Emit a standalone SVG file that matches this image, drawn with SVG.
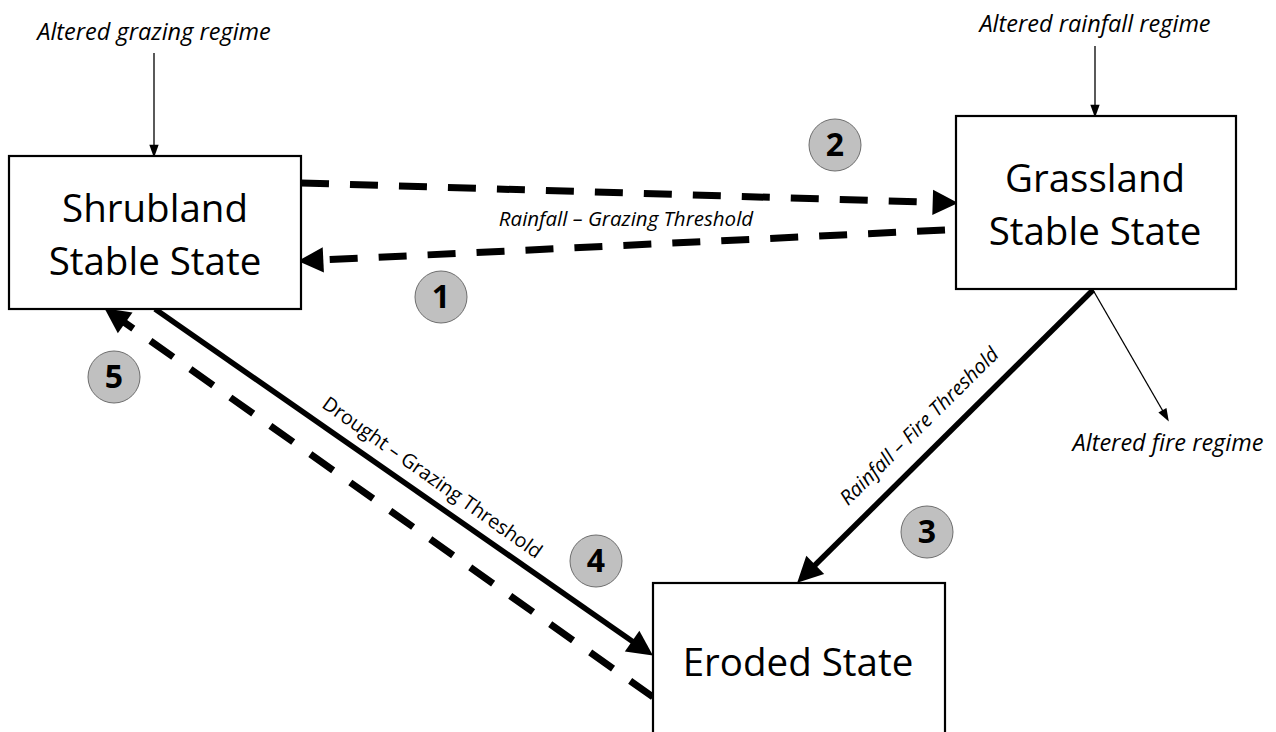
<svg xmlns="http://www.w3.org/2000/svg" width="1276" height="732" viewBox="0 0 1276 732">
<defs>
<style>
.box{fill:#fff;stroke:#000;stroke-width:2.2}
.title{font-family:"Open Sans","Noto Sans",sans-serif;font-size:38.5px;fill:#000;text-anchor:middle}
.ital{font-family:"Open Sans","Noto Sans",sans-serif;font-style:italic;font-size:23.5px;fill:#000;text-anchor:middle}
.lab{font-family:"Open Sans","Noto Sans",sans-serif;font-size:19.7px;fill:#000;text-anchor:middle}
.badge circle{fill:#c0c0c0;stroke:#6e6e6e;stroke-width:1}
.badge text{font-family:"Open Sans","Noto Sans",sans-serif;font-weight:700;font-size:32px;fill:#000;text-anchor:middle}
.thin{stroke:#000;stroke-width:1.3;fill:none}
.dash{stroke:#000;stroke-width:7;fill:none;stroke-dasharray:28 21}
.solid{stroke:#000;stroke-width:5.5;fill:none}
</style>
<marker id="big" markerUnits="userSpaceOnUse" markerWidth="30" markerHeight="30" viewBox="-3 -12 26 24" refX="0" refY="0" orient="auto" overflow="visible">
<path d="M-2,-11 L20,0 L-2,11 z" fill="#000"/>
</marker>
<marker id="small" markerUnits="userSpaceOnUse" markerWidth="14" markerHeight="14" viewBox="-1 -5 12 10" refX="0" refY="0" orient="auto" overflow="visible">
<path d="M-1,-4 L10,0 L-1,4 z" fill="#000"/>
</marker>
</defs>
<rect width="1276" height="732" fill="#fff"/>

<g id="connectors">
<line class="thin" x1="154" y1="53" x2="154" y2="146" marker-end="url(#small)"/>
<line class="thin" x1="1095" y1="46" x2="1095" y2="106" marker-end="url(#small)"/>
<line class="thin" x1="1093" y1="290" x2="1163" y2="411.3" marker-end="url(#small)"/>
<line class="dash" x1="301" y1="183" x2="935" y2="202.4" marker-end="url(#big)"/>
<line class="dash" x1="945" y1="230" x2="321" y2="260" marker-end="url(#big)"/>
<line class="solid" x1="155" y1="309" x2="634" y2="642.4" marker-end="url(#big)"/>
<line class="dash" x1="653" y1="697" x2="123.3" y2="321.6" marker-end="url(#big)"/>
<line class="solid" x1="1093" y1="290" x2="813.6" y2="566.5" marker-end="url(#big)"/>
<text class="ital" x="626" y="226" style="font-size:20.5px">Rainfall – Grazing Threshold</text>
<text class="lab" transform="translate(428.5,483) rotate(35.3)">Drought – Grazing Threshold</text>
<text class="ital" transform="translate(924,431) rotate(-44.7)" style="font-size:20.2px">Rainfall – Fire Threshold</text>
</g>

<g id="shrubland">
<rect class="box" x="9" y="156" width="292" height="153"/>
<text class="title" x="155" y="222">Shrubland</text>
<text class="title" x="155" y="275">Stable State</text>
</g>
<g id="grassland">
<rect class="box" x="956" y="116" width="280" height="173"/>
<text class="title" x="1095" y="192">Grassland</text>
<text class="title" x="1095" y="245">Stable State</text>
</g>
<g id="eroded">
<rect class="box" x="653" y="583" width="292" height="170"/>
<text class="title" x="798" y="676">Eroded State</text>
</g>

<g id="grazing-driver"><text class="ital" x="154" y="40">Altered grazing regime</text></g>
<g id="rainfall-driver"><text class="ital" x="1095" y="32">Altered rainfall regime</text></g>
<g id="fire-driver"><text class="ital" x="1168" y="451">Altered fire regime</text></g>

<g id="badge1" class="badge"><circle cx="441" cy="297" r="26"/><text x="441" y="308">1</text></g>
<g id="badge2" class="badge"><circle cx="835" cy="145" r="26"/><text x="835" y="156">2</text></g>
<g id="badge3" class="badge"><circle cx="927" cy="532" r="26"/><text x="927" y="543">3</text></g>
<g id="badge4" class="badge"><circle cx="596" cy="561" r="26"/><text x="596" y="572">4</text></g>
<g id="badge5" class="badge"><circle cx="114" cy="377" r="26"/><text x="114" y="388">5</text></g>
</svg>
